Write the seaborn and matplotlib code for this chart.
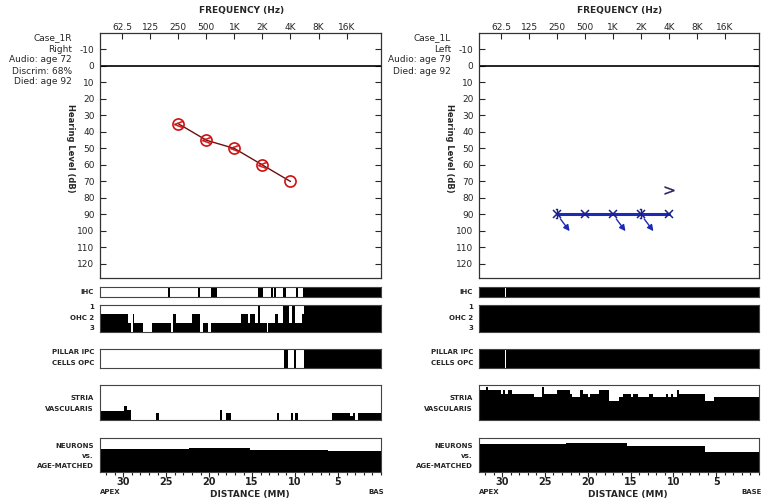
import matplotlib
matplotlib.use("Agg")
import matplotlib.pyplot as plt
from matplotlib.ticker import NullLocator, MultipleLocator
import numpy as np
import pandas as pd
import seaborn as sns

W, H = 776, 501

# audiogram axes
freq_ticks = [62.5, 125, 250, 500, 1000, 2000, 4000, 8000, 16000]
freq_labels = ["62.5", "125", "250", "500", "1K", "2K", "4K", "8K", "16K"]
db_ticks = list(range(-10, 130, 10))

# Case_1R (right ear)
r_freq = [250, 500, 1000, 2000, 4000]
r_air = [35, 45, 50, 60, 70]
r_bone_freq = [250, 500, 1000, 2000]
r_bone = [35, 45, 50, 60]

# Case_1L (left ear)
l_freq = [250, 500, 1000, 2000, 4000]
l_air = [90, 90, 90, 90, 90]
l_masked_freq = [250, 2000]
l_masked = [90, 90]
l_nr_freq = [250, 1000, 2000]
l_nr = [90, 90, 90]
l_bone_freq = [4000]
l_bone = [75]

# histopathology, distance from base (mm); black = lost
r_ihc_lost = [(24.8, 24.6), (21.3, 21.1), (19.8, 19.1), (14.3, 13.7), (12.8, 12.6),
              (12.45, 12.25), (11.4, 11.0), (9.9, 9.7), (9.1, 0)]
l_ihc_lost = [(32.7, 29.7), (29.5, 0)]

r_ohc_edges = [32.7, 29.4, 29.1, 28.9, 28.7, 27.65, 26.6, 24.4, 24.2, 23.9, 22.0, 21.1, 20.7,
               20.1, 19.8, 16.35, 15.45, 15.2, 14.7, 14.3, 14.1, 13.3, 13.1, 12.35, 11.95,
               11.4, 10.7, 10.3, 10.05, 9.25, 9.0, 0]
r_ohc_rows = [2, 1, 0, 2, 1, 0, 1, 0, 2, 1, 2, 0, 1, 0, 1, 2, 1, 2, 1, 3, 1, 0, 1, 2, 1,
              3, 1, 3, 1, 2, 3]
l_ohc_edges = [32.7, 0]
l_ohc_rows = [3]

r_pillar_lost = [(11.3, 10.85), (10.15, 9.9), (9.0, 0)]
l_pillar_lost = [(32.7, 29.7), (29.5, 0)]

r_stria_edges = [32.7, 29.9, 29.5, 29.1, 26.2, 25.8, 18.75, 18.45, 18.0, 17.4, 12.05, 11.9,
                 10.5, 10.2, 9.95, 9.65, 5.75, 3.6, 3.25, 3.05, 2.65, 0]
r_stria = [27, 40, 30, 0, 19, 0, 29, 0, 19, 0, 19, 0, 19, 0, 19, 0, 19, 11, 19, 0, 19]
l_stria_edges = [32.7, 31.9, 31.6, 30.1, 29.9, 29.7, 29.3, 28.9, 26.3, 25.3, 25.1, 23.6,
                 22.1, 21.8, 20.9, 20.5, 20.0, 19.7, 18.7, 17.5, 16.4, 15.9, 14.9, 14.7,
                 14.1, 12.8, 12.35, 10.9, 10.6, 10.3, 10.0, 9.6, 9.3, 6.3, 5.25, 0]
l_stria = [85, 93, 85, 74, 85, 74, 85, 74, 66, 93, 74, 85, 74, 66, 85, 74, 66, 74, 85, 54,
           66, 74, 66, 74, 66, 74, 66, 74, 66, 74, 66, 85, 74, 54, 66]

r_neuron_edges = [32.7, 22.4, 15.3, 6.15, 0]
r_neuron = [68, 72, 65, 63]
l_neuron_edges = [32.7, 22.5, 15.45, 6.3, 0]
l_neuron = [82, 86, 77, 58]

sns.set_style("white")
plt.rcParams["font.family"] = ["DejaVu Sans"]
plt.rcParams["axes.unicode_minus"] = False

fig = plt.figure(figsize=(W / 100, H / 100), dpi=100)


def rect(x0, y0, x1, y1):
    return [x0 / W, 1 - y1 / H, (x1 - x0) / W, (y1 - y0) / H]


def ftext(x, y, s, **kw):
    kw.setdefault("fontsize", 6.5)
    kw.setdefault("va", "center")
    fig.text(x / W, 1 - y / H, s, **kw)


def box_axes(x0, x1, y0, y1, ymax):
    ax = fig.add_axes(rect(x0, y0, x1, y1))
    ax.set_xlim(32.7, 0)
    ax.set_ylim(0, ymax)
    ax.set_xticks([])
    ax.set_yticks([])
    for s in ax.spines.values():
        s.set_color("#444444")
        s.set_linewidth(0.8)
    return ax


def steps(ax, edges, vals):
    ax.stairs(vals[::-1], edges[::-1], fill=True, color="black", baseline=0)


def spans(ax, segs):
    for a, b in segs:
        ax.axvspan(b, a, color="black", lw=0)


def panel(x0, x1, notes, ihc, ohc_e, ohc_v, pillar, st_e, st_v, ne_e, ne_v, base_txt):
    ax = fig.add_axes(rect(x0, 33, x1, 278))
    ax.set_xscale("log")
    ax.set_xlim(36, 37500)
    ax.set_ylim(128.5, -20)
    ax.set_xticks(freq_ticks)
    ax.set_xticklabels(freq_labels)
    ax.xaxis.set_minor_locator(NullLocator())
    ax.xaxis.tick_top()
    ax.set_yticks(db_ticks)
    ax.tick_params(axis="x", direction="in", length=4, width=0.8, labelsize=6.5, pad=1)
    ax.tick_params(axis="y", direction="in", length=4, width=0.8, labelsize=6.5, pad=4,
                   left=True, right=True)
    for s in ax.spines.values():
        s.set_color("#333333")
        s.set_linewidth(0.9)
    ax.axhline(0, color="black", lw=1.2)
    cx = (x0 + x1) / 2
    ftext(cx + 1, 11, "FREQUENCY (Hz)", ha="center", fontweight="bold", fontsize=6.5)
    ftext(x0 - 30, 148, "Hearing Level (dB)", ha="center", rotation=270,
          fontweight="bold", fontsize=6)
    for i, t in enumerate(notes):
        ftext(x0 - 28, 38 + 11 * i, t, ha="right", fontsize=6.5)

    lx = x0 - 6
    a = box_axes(x0, x1, 287, 297, 1)
    spans(a, ihc)
    ftext(lx, 292, "IHC", ha="right", fontweight="bold", fontsize=5)

    a = box_axes(x0, x1, 305, 332, 3)
    steps(a, ohc_e, ohc_v)
    ftext(lx, 307, "1", ha="right", fontweight="bold", fontsize=5)
    ftext(lx, 318, "OHC 2", ha="right", fontweight="bold", fontsize=5)
    ftext(lx, 328, "3", ha="right", fontweight="bold", fontsize=5)

    a = box_axes(x0, x1, 349, 368, 1)
    spans(a, pillar)
    ftext(lx, 352, "PILLAR IPC", ha="right", fontweight="bold", fontsize=5)
    ftext(lx, 363, "CELLS OPC", ha="right", fontweight="bold", fontsize=5)

    a = box_axes(x0, x1, 385, 420, 100)
    steps(a, st_e, st_v)
    ftext(lx, 398, "STRIA", ha="right", fontweight="bold", fontsize=5)
    ftext(lx, 409, "VASCULARIS", ha="right", fontweight="bold", fontsize=5)

    a = box_axes(x0, x1, 438, 472, 100)
    steps(a, ne_e, ne_v)
    ftext(lx, 446, "NEURONS", ha="right", fontweight="bold", fontsize=5)
    ftext(lx, 456, "vs.", ha="right", fontweight="bold", fontsize=5)
    ftext(lx, 466, "AGE-MATCHED", ha="right", fontweight="bold", fontsize=5)
    a.set_xticks([30, 25, 20, 15, 10, 5])
    a.xaxis.set_minor_locator(MultipleLocator(1))
    a.tick_params(axis="x", which="both", direction="out", bottom=True, width=0.8,
                  labelsize=7, pad=0, colors="#222222")
    a.tick_params(axis="x", which="major", length=3.5)
    a.tick_params(axis="x", which="minor", length=2.5)
    for lab in a.get_xticklabels():
        lab.set_fontweight("bold")
    ftext(x0, 492, "APEX", ha="left", fontweight="bold", fontsize=5)
    ftext(x1 + 3, 492, base_txt, ha="right", fontweight="bold", fontsize=5)
    ftext(cx + 9, 494, "DISTANCE (MM)", ha="center", fontweight="bold", fontsize=6.5)
    return ax


ax_r = panel(100, 381, ["Case_1R", "Right", "Audio: age 72", "Discrim: 68%", "Died: age 92"],
             r_ihc_lost, r_ohc_edges, r_ohc_rows, r_pillar_lost, r_stria_edges, r_stria,
             r_neuron_edges, r_neuron, "BAS")
ax_l = panel(479, 759, ["Case_1L", "Left", "Audio: age 79", "Died: age 92"],
             l_ihc_lost, l_ohc_edges, l_ohc_rows, l_pillar_lost, l_stria_edges, l_stria,
             l_neuron_edges, l_neuron, "BASE")

# right ear audiogram
df_r = pd.DataFrame({"freq": r_freq, "db": r_air})
sns.lineplot(data=df_r, x="freq", y="db", ax=ax_r, color="#6a1010", lw=1,
             marker="o", ms=8, mfc="none", mec="#d01010", mew=1.2)
sns.lineplot(x=r_bone_freq, y=r_bone, ax=ax_r, lw=0, marker="$<$", ms=6,
             mec="#d01010", mfc="#d01010", mew=0.3)

# left ear audiogram
blue = "#1c2ab4"
df_l = pd.DataFrame({"freq": l_freq, "db": l_air})
sns.lineplot(data=df_l, x="freq", y="db", ax=ax_l, color=blue, lw=2.2,
             marker="x", ms=6, mew=1.1, mec="#1a1f8a")
sns.lineplot(x=l_masked_freq, y=l_masked, ax=ax_l, lw=0, marker="$]$", ms=7,
             mec="#1a1f8a", mfc="#1a1f8a", mew=0.3)
sns.lineplot(x=l_bone_freq, y=l_bone, ax=ax_l, lw=0, marker="$>$", ms=7,
             mec="#202060", mfc="#202060", mew=0.2)
for f, d in zip(l_nr_freq, l_nr):
    ax_l.annotate("", xy=(f, d), xytext=(9, -12), textcoords="offset points",
                  arrowprops=dict(arrowstyle="<|-,head_length=0.35,head_width=0.18",
                                  color=blue, lw=1, shrinkA=0, shrinkB=4))
for a in (ax_r, ax_l):
    a.set_xlabel("")
    a.set_ylabel("")

fig.savefig("out.png", dpi=100)
